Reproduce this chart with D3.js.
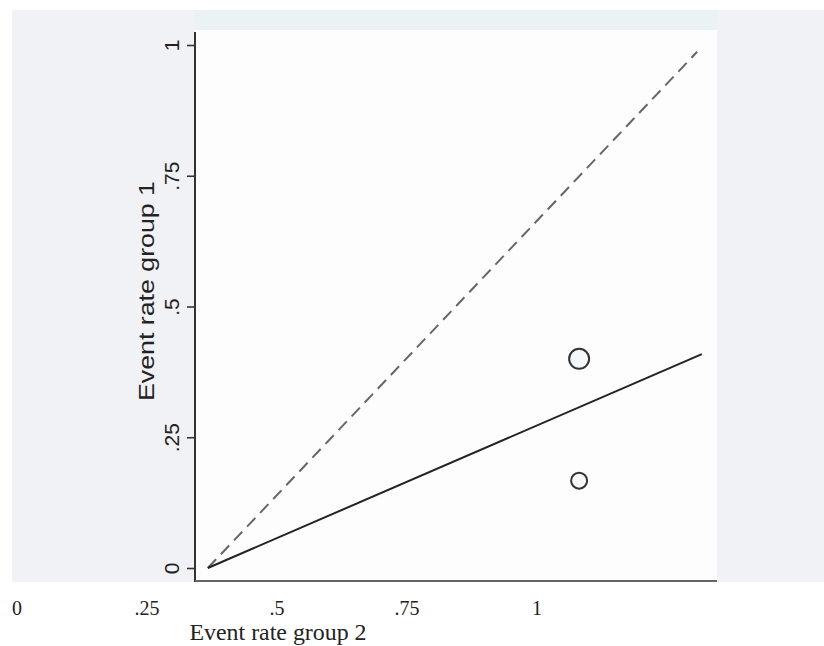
<!DOCTYPE html>
<html>
<head>
<meta charset="utf-8">
<script src="https://cdn.jsdelivr.net/npm/d3@7"></script>
<style>
  html, body { margin: 0; padding: 0; background: #ffffff; }
  svg { display: block; }
</style>
</head>
<body>
<div id="chart"></div>
<script>
// values
const yTicks = [0, 0.25, 0.5, 0.75, 1];
const yTickLabels = ["0", ".25", ".5", ".75", "1"];
const xTicks = [0, 0.25, 0.5, 0.75, 1];
const xTickLabels = ["0", ".25", ".5", ".75", "1"];

// line of equality (dashed) and fitted line (solid), in axis units
const equalityLine = [[0.367, 0], [1.308, 0.987]];
const fitLine = [[0.367, 0], [1.317, 0.409]];

// study points: x, y, relative weight
const studyX = [1.081, 1.081];
const studyY = [0.40, 0.167];
const studyWeight = [10, 8];

const width = 824;
const height = 646;

const svg = d3.select("#chart")
    .append("svg")
    .attr("width", width)
    .attr("height", height);

// background panels
svg.append("rect")
    .attr("x", 12).attr("y", 10)
    .attr("width", width - 12).attr("height", 572)
    .attr("fill", "#f1f2f6");

svg.append("rect")
    .attr("x", 195).attr("y", 10)
    .attr("width", 522).attr("height", 22)
    .attr("fill", "#eaf2f4");

svg.append("rect")
    .attr("x", 195).attr("y", 30)
    .attr("width", 522).attr("height", 552)
    .attr("fill", "#fdfdfd");

const x = d3.scaleLinear().domain([0, 1]).range([17, 537]);
const y = d3.scaleLinear().domain([0, 1]).range([568, 45]);

// y axis
const yAxis = d3.axisLeft(y)
    .tickValues(yTicks)
    .tickSize(8)
    .tickFormat((d, i) => yTickLabels[i]);

const gy = svg.append("g")
    .attr("transform", "translate(195,0)")
    .call(yAxis);

gy.select(".domain").remove();
gy.selectAll(".tick line").attr("stroke", "#333").attr("stroke-width", 1.6);
gy.selectAll(".tick text")
    .attr("x", null).attr("dy", null)
    .attr("transform", "translate(-24,0) rotate(-90)")
    .attr("text-anchor", "middle")
    .attr("dominant-baseline", "central")
    .attr("font-family", "'Liberation Sans', Arial, sans-serif")
    .attr("font-size", 21)
    .attr("fill", "#222");

svg.append("line")
    .attr("x1", 195).attr("x2", 195)
    .attr("y1", 32).attr("y2", 582)
    .attr("stroke", "#333").attr("stroke-width", 2);

// bottom axis line
svg.append("line")
    .attr("x1", 195).attr("x2", 717)
    .attr("y1", 581).attr("y2", 581)
    .attr("stroke", "#666").attr("stroke-width", 2);

// x tick labels (no tick marks)
svg.append("g")
    .selectAll("text")
    .data(xTicks)
    .enter().append("text")
    .attr("x", d => x(d))
    .attr("y", 615)
    .attr("text-anchor", "middle")
    .attr("font-family", "'Liberation Serif', 'Times New Roman', serif")
    .attr("font-size", 20)
    .attr("fill", "#222")
    .text((d, i) => xTickLabels[i]);

// axis titles
svg.append("text")
    .attr("transform", "translate(146,291) rotate(-90)")
    .attr("text-anchor", "middle")
    .attr("dominant-baseline", "central")
    .attr("font-family", "'Liberation Sans', Arial, sans-serif")
    .attr("font-size", 22)
    .attr("textLength", 220)
    .attr("lengthAdjust", "spacingAndGlyphs")
    .attr("fill", "#222")
    .text("Event rate group 1");

svg.append("text")
    .attr("x", x(0.5) + 1)
    .attr("y", 640)
    .attr("text-anchor", "middle")
    .attr("font-family", "'Liberation Serif', 'Times New Roman', serif")
    .attr("font-size", 23)
    .attr("textLength", 177)
    .attr("lengthAdjust", "spacingAndGlyphs")
    .attr("fill", "#222")
    .text("Event rate group 2");

const line = d3.line()
    .x(d => x(d[0]))
    .y(d => y(d[1]));

svg.append("path")
    .datum(equalityLine)
    .attr("d", line)
    .attr("fill", "none")
    .attr("stroke", "#666")
    .attr("stroke-width", 2)
    .attr("stroke-dasharray", "12,7");

svg.append("path")
    .datum(fitLine)
    .attr("d", line)
    .attr("fill", "none")
    .attr("stroke", "#222")
    .attr("stroke-width", 2);

svg.append("g")
    .selectAll("circle")
    .data(studyX)
    .enter().append("circle")
    .attr("cx", d => x(d))
    .attr("cy", (d, i) => y(studyY[i]))
    .attr("r", (d, i) => studyWeight[i])
    .attr("fill", "#f4f8fa")
    .attr("stroke", "#333")
    .attr("stroke-width", 2);
</script>
</body>
</html>
